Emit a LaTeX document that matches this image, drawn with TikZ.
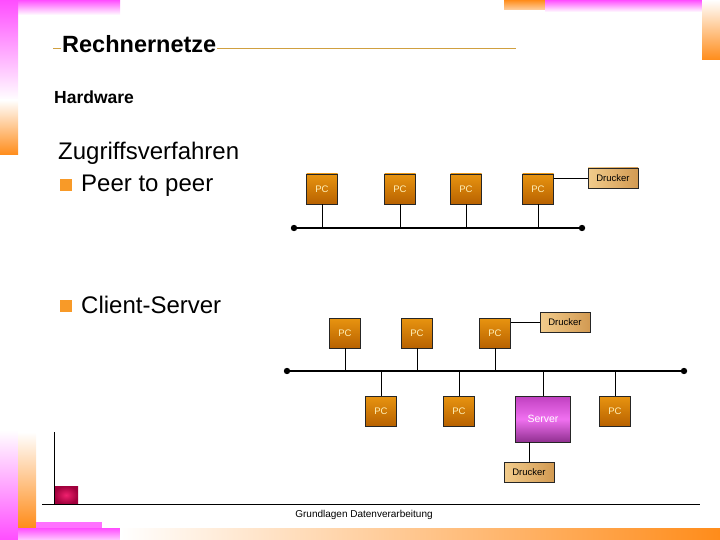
\documentclass[tikz,border=0pt]{standalone}
\usepackage{fontspec}
\setmainfont{Liberation Sans}
\definecolor{mag}{HTML}{FF4DFF}
\definecolor{org}{HTML}{FF8C1A}
\definecolor{gold}{HTML}{D0A040}
\definecolor{bullet}{HTML}{F89A28}
\definecolor{pctop}{HTML}{E89410}
\definecolor{pcbot}{HTML}{B86200}
\definecolor{pctext}{HTML}{FFF0B8}
\definecolor{drl}{HTML}{F2CC8C}
\definecolor{drr}{HTML}{D29A52}
\definecolor{svtop}{HTML}{C040C0}
\definecolor{svmid}{HTML}{F070F0}
\definecolor{svbot}{HTML}{903090}
\definecolor{redin}{HTML}{F0206E}
\definecolor{redout}{HTML}{A0003C}
\begin{document}
\begin{tikzpicture}[x=1pt,y=-1pt,
  pcbox/.style={draw=black!85, line width=0.6pt, minimum width=31pt, minimum height=30pt, inner sep=0pt, top color=pctop, bottom color=pcbot, text=pctext, font=\fontsize{9.5}{10}\selectfont},
  drbox/.style={draw=black!85, line width=0.6pt, minimum width=50pt, minimum height=20pt, inner sep=0pt, left color=drl, right color=drr, font=\fontsize{9.5}{10}\selectfont},
  svbox/.style={draw=black!85, line width=0.6pt, minimum width=55pt, minimum height=46pt, inner sep=0pt, top color=svtop, bottom color=svbot, middle color=svmid, text=white, font=\fontsize{10.5}{12}\selectfont},
  bus/.style={line width=2.4pt},
  stub/.style={line width=0.8pt},
  busdot/.style={fill=black},
  txt/.style={anchor=base west, inner sep=0pt}
]
\useasboundingbox (0,0) rectangle (720,540);
% decorations
\fill[top color=mag, bottom color=white] (18,0) rectangle (120,15);
\fill[top color=mag, bottom color=white] (0,0) rectangle (18,100);
\fill[top color=white, bottom color=org] (0,100) rectangle (18,155);
\fill[top color=org, bottom color=org!40] (504,0) rectangle (545,10);
\fill[top color=mag, bottom color=white] (545,0) rectangle (702,12);
\fill[top color=white, bottom color=org] (702,0) rectangle (720,60);
\fill[top color=white, bottom color=mag] (0,430) rectangle (18,540);
\fill[top color=white, bottom color=org] (18,432) rectangle (36,528);
\fill[mag!80] (36,522) rectangle (102,528);
\fill[top color=mag, bottom color=mag!30] (18,528) rectangle (120,540);
\fill[left color=white, right color=org] (120,528) rectangle (720,540);
% title
\draw[gold, line width=0.8pt] (53,48) -- (516,48);
\node[txt, fill=white, inner sep=1pt, font=\bfseries\fontsize{23.5}{26}\selectfont] (title) at (61,53) {Rechnernetze};
\node[txt, font=\bfseries\fontsize{17.5}{20}\selectfont] (hw) at (54,104) {Hardware};
\node[txt, font=\fontsize{24}{28}\selectfont] (zug) at (58,160) {Zugriffsverfahren};
\fill[bullet] (60,179) rectangle (72,191);
\node[txt, font=\fontsize{24}{28}\selectfont] (p2p) at (81,192) {Peer to peer};
\fill[bullet] (60,300) rectangle (72,312);
\node[txt, font=\fontsize{24}{28}\selectfont] (cs) at (81,313) {Client-Server};
% peer to peer network
\coordinate (b1L) at (294,228);
\coordinate (b1R) at (582,228);
\node[pcbox] (p1) at (322,189) {PC};
\node[pcbox] (p2) at (400,189) {PC};
\node[pcbox] (p3) at (466,189) {PC};
\node[pcbox] (p4) at (538,189) {PC};
\node[drbox] (d1) at (613,178) {Drucker};
\draw[bus] (b1L) -- (b1R);
\fill[busdot] (b1L) circle (3.2pt);
\fill[busdot] (b1R) circle (3.2pt);
\foreach \n in {p1,p2,p3,p4} \draw[stub] (\n.south) -- (\n.south |- b1L);
\draw[stub] (p4.east |- d1.west) -- (d1.west);
% client server network
\coordinate (b2L) at (287,371);
\coordinate (b2R) at (684,371);
\node[pcbox] (q1) at (345,333) {PC};
\node[pcbox] (q2) at (417,333) {PC};
\node[pcbox] (q3) at (495,333) {PC};
\node[drbox] (d2) at (565,322) {Drucker};
\node[pcbox] (q4) at (381,411) {PC};
\node[pcbox] (q5) at (459,411) {PC};
\node[svbox] (sv) at (543,419) {Server};
\node[pcbox] (q6) at (615,411) {PC};
\node[drbox] (d3) at (529,472) {Drucker};
\draw[bus] (b2L) -- (b2R);
\fill[busdot] (b2L) circle (3.2pt);
\fill[busdot] (b2R) circle (3.2pt);
\foreach \n in {q1,q2,q3} \draw[stub] (\n.south) -- (\n.south |- b2L);
\foreach \n in {q4,q5,sv,q6} \draw[stub] (\n.north) -- (\n.north |- b2L);
\draw[stub] (q3.east |- d2.west) -- (d2.west);
\draw[stub] (sv.south -| d3.north) -- (d3.north);
% footer frame
\coordinate (fv) at (54,432);
\coordinate (fc) at (54,504);
\coordinate (fl) at (42,504);
\coordinate (fr) at (700,504);
\shade[inner color=redin, outer color=redout] (54,486) rectangle (78,504);
\draw[line width=0.8pt] (fv) -- (fc);
\draw[line width=0.8pt] (fl) -- (fr);
\node[anchor=base, inner sep=0pt, font=\fontsize{10}{12}\selectfont] (foot) at (364,517) {Grundlagen Datenverarbeitung};
\end{tikzpicture}
\end{document}
